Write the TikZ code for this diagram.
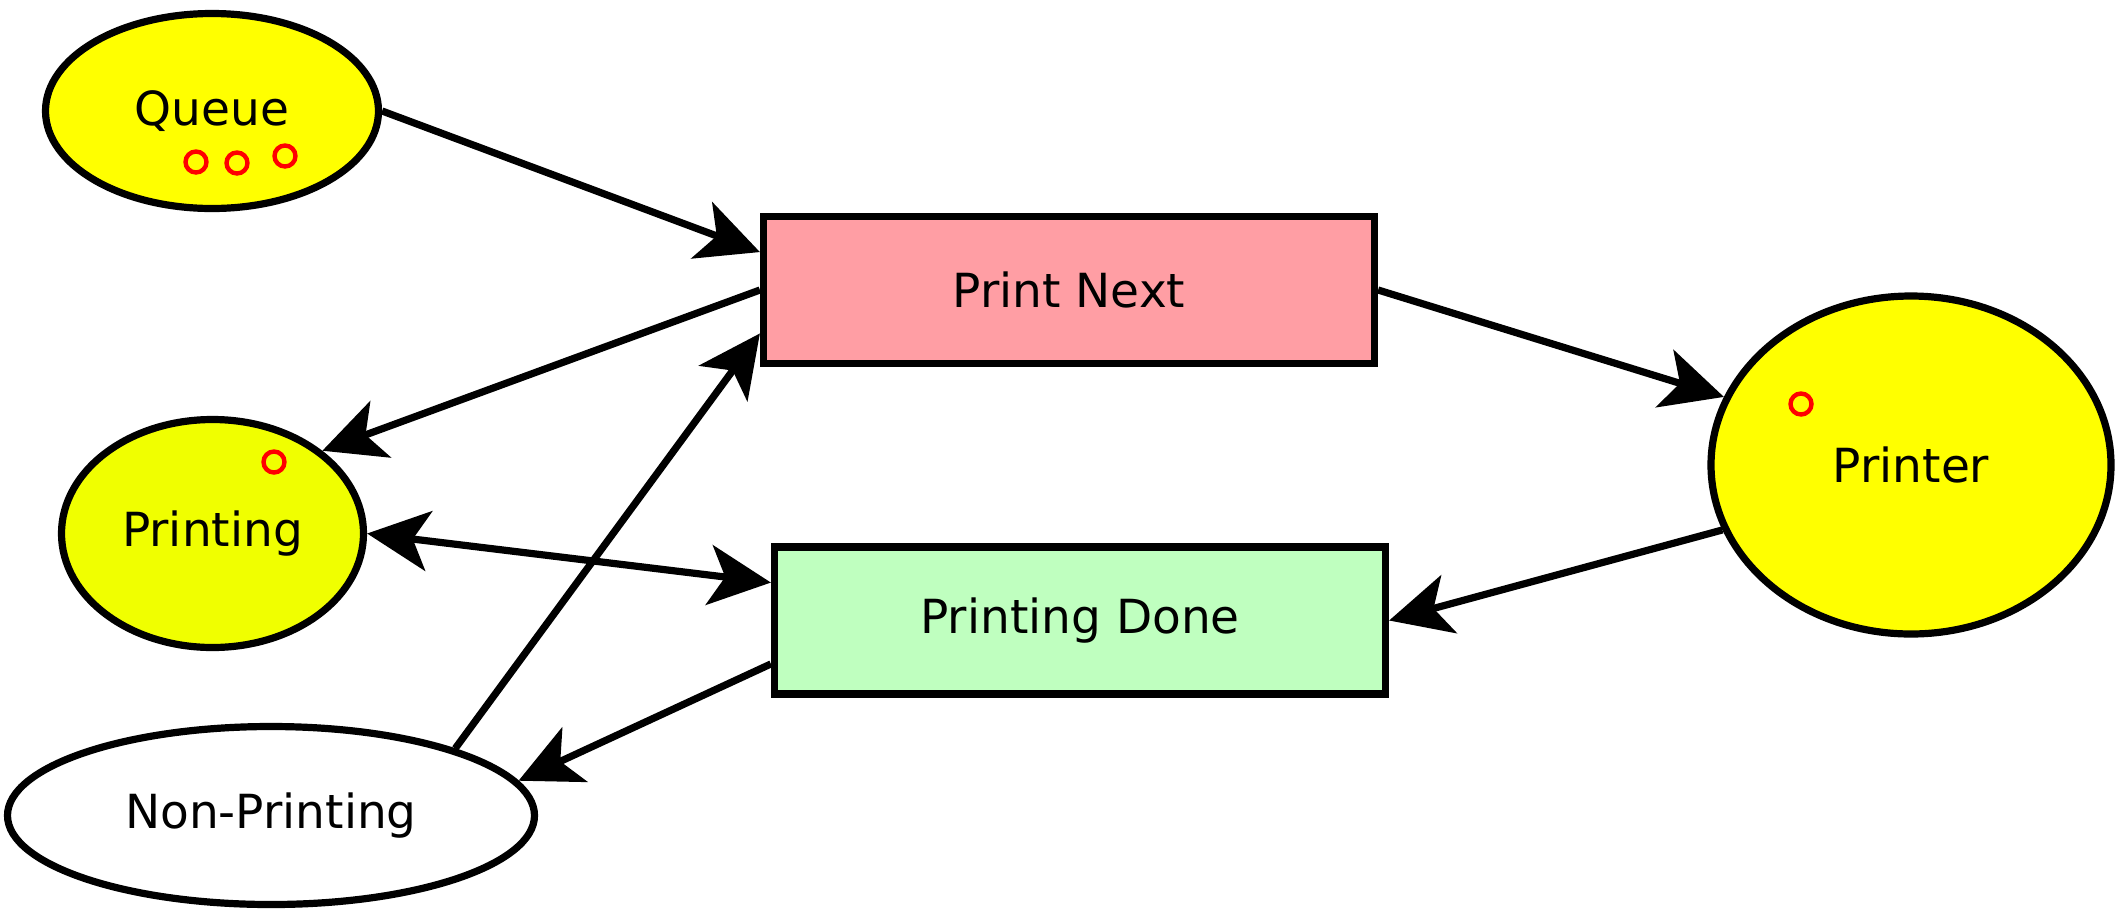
\documentclass[tikz,border=0pt]{standalone}
\usepackage{fontspec}
\setmainfont{DejaVu Sans}
\usetikzlibrary{shapes.geometric,arrows.meta}
\definecolor{placeyellow}{HTML}{FFFF00}
\definecolor{printingyellow}{HTML}{F0FF00}
\definecolor{pnfill}{HTML}{FF9EA4}
\definecolor{pdfill}{HTML}{BFFFBF}
\begin{document}
\begin{tikzpicture}[x=0.5pt,y=-0.5pt,
  place/.style={ellipse,draw,line width=3.6pt,inner sep=0pt,font=\fontsize{23.5}{28}\selectfont},
  trans/.style={rectangle,draw,line width=3.6pt,inner sep=0pt,minimum width=305.5pt,minimum height=73.5pt,font=\fontsize{23.5}{28}\selectfont},
  token/.style={circle,draw=red,line width=2.2pt,minimum size=10.5pt,inner sep=0pt},
  conn/.style={line width=3.6pt,-{Stealth[length=31pt,width=30pt,inset=8pt]}},
  conntwo/.style={line width=3.6pt,{Stealth[length=31pt,width=30pt,inset=8pt]}-{Stealth[length=31pt,width=30pt,inset=8pt]}}]
\useasboundingbox (0,0) rectangle (2118,911);
\node[place,fill=placeyellow,minimum width=166.5pt,minimum height=97.5pt] (queue) at (212,111) {Queue};
\node[place,fill=printingyellow,minimum width=151pt,minimum height=114pt] (printing) at (212.5,533.5) {Printing};
\node[place,fill=placeyellow,minimum width=200pt,minimum height=169pt] (printer) at (1911,465) {Printer};
\node[place,fill=white,minimum width=263.5pt,minimum height=89pt] (np) at (271,815.5) {Non-Printing};
\node[trans,fill=pnfill] (pn) at (1069,290) {Print Next};
\node[trans,fill=pdfill] (pd) at (1080,620.5) {Printing Done};
\node[token] (q1) at (196,162) {};
\node[token] (q2) at (237,163) {};
\node[token] (q3) at (285,156) {};
\node[token] (p1) at (274,462) {};
\node[token] (r1) at (1801,404) {};
\draw[conn] (queue.east) -- (pn.173);
\draw[conn] (pn.west) -- (printing.37);
\draw[conn] (np.20) -- (pn.188);
\draw[conn] (pn.east) -- (printer.160);
\draw[conn] (printer.199) -- (pd.east);
\draw[conntwo] (printing.east) -- (pd.173);
\draw[conn] (pd.188) -- (np.8);
\end{tikzpicture}
\end{document}
